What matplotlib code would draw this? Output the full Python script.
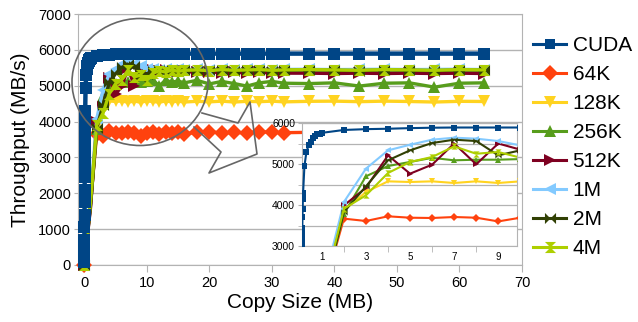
import matplotlib
matplotlib.use("Agg")
import matplotlib.pyplot as plt
from matplotlib.path import Path
from matplotlib.patches import Ellipse
from matplotlib.lines import Line2D

plt.rcParams['font.family'] = ['Liberation Sans', 'DejaVu Sans']

# copy sizes (MB)
cuda_x = [0.0, 0.01, 0.02, 0.03, 0.04, 0.05, 0.06, 0.07, 0.08, 0.09, 0.10, 0.105, 0.11,
          0.115, 0.12, 0.13, 0.14, 0.15, 0.21, 0.3, 0.4, 0.5, 0.6, 0.7, 0.8, 0.9, 1.0,
          2, 3, 4, 5, 6, 7, 8, 9, 10, 11, 12, 13, 14, 15, 16,
          18, 20, 22, 24, 26, 28, 30, 32, 36, 40, 44, 48, 52, 56, 60, 64]
cuda_y = [80, 350, 700, 1050, 1400, 1750, 2100, 2450, 2750, 2950, 3050, 3200, 3350,
          3450, 3700, 3900, 4150, 4300, 4950, 5290, 5460, 5540, 5630, 5680, 5720, 5740, 5760,
          5830, 5850, 5860, 5875, 5885, 5890, 5890, 5890, 5890, 5895, 5895, 5895, 5895, 5895, 5895,
          5895, 5895, 5895, 5895, 5895, 5895, 5895, 5895, 5895, 5895, 5895, 5895, 5895, 5895, 5895, 5895]

chunk_x = [0, 1, 2, 3, 4, 5, 6, 7, 8, 9, 10, 11, 12, 13, 14, 15, 16,
           18, 20, 22, 24, 26, 28, 30, 32, 36, 40, 44, 48, 52, 56, 60, 64]

y_64k = [0, 1750, 3667, 3610, 3724, 3690, 3683, 3707, 3690, 3600, 3690, 3700, 3650, 3720, 3680, 3700, 3660,
         3700, 3720, 3680, 3700, 3680, 3720, 3700, 3690, 3700, 3710, 3690, 3700, 3720, 3700, 3710, 3700]
y_128k = [0, 1800, 3870, 4317, 4577, 4561, 4577, 4537, 4577, 4537, 4577, 4560, 4540, 4575, 4550, 4570, 4545,
          4565, 4550, 4570, 4545, 4565, 4555, 4570, 4550, 4565, 4570, 4555, 4570, 4560, 4545, 4565, 4560]
y_256k = [0, 1700, 3789, 4700, 4950, 5050, 5150, 5090, 5105, 5105, 5120, 5150, 5000, 5150, 5100, 5130, 5080,
          5150, 5050, 5120, 5060, 4990, 5080, 5120, 5070, 5060, 5080, 4990, 5070, 5080, 4960, 5070, 5080]
y_512k = [0, 1600, 3990, 4420, 5210, 4764, 4984, 5500, 4992, 5500, 5350, 5450, 5400, 5450, 5380, 5420, 5400,
          5370, 5390, 5360, 5380, 5350, 5370, 5360, 5350, 5350, 5340, 5350, 5340, 5350, 5340, 5350, 5340]
y_1m = [0, 1900, 4073, 4886, 5333, 5470, 5593, 5642, 5618, 5560, 5455, 5480, 5450, 5470, 5440, 5460, 5450,
        5460, 5450, 5460, 5450, 5455, 5460, 5450, 5455, 5460, 5450, 5455, 5460, 5450, 5455, 5460, 5450]
y_2m = [0, 1650, 3830, 4455, 5090, 5333, 5512, 5593, 5560, 5211, 5333, 5420, 5440, 5400, 5430, 5410, 5440,
        5420, 5430, 5440, 5420, 5430, 5440, 5420, 5430, 5440, 5430, 5420, 5440, 5430, 5420, 5440, 5430]
y_4m = [0, 1750, 3910, 4236, 4780, 5050, 5171, 5430, 5250, 5293, 5155, 5350, 5420, 5380, 5440, 5400, 5430,
        5440, 5420, 5450, 5430, 5440, 5450, 5430, 5440, 5450, 5440, 5430, 5450, 5440, 5430, 5450, 5440]

labels = ['CUDA', '64K', '128K', '256K', '512K', '1M', '2M', '4M']
colors = ['#004586', '#ff420e', '#ffd320', '#579d1c', '#7e0021', '#83caff', '#314004', '#aecf00']

codes = [Path.MOVETO, Path.LINETO, Path.LINETO, Path.CLOSEPOLY] * 2
bowtie = Path([(-1, -1), (0, 0), (-1, 1), (-1, -1), (1, -1), (0, 0), (1, 1), (1, -1)], codes)
hourglass = Path([(-1, 1), (0, 0), (1, 1), (-1, 1), (-1, -1), (0, 0), (1, -1), (-1, -1)], codes)
markers = ['s', 'D', 'v', '^', '>', '<', bowtie, hourglass]

series = [(cuda_x, cuda_y), (chunk_x, y_64k), (chunk_x, y_128k), (chunk_x, y_256k),
          (chunk_x, y_512k), (chunk_x, y_1m), (chunk_x, y_2m), (chunk_x, y_4m)]

grid_c = '#b3b3b3'

fig = plt.figure(figsize=(6.38, 3.22), dpi=100)

# main chart
ax = fig.add_axes([78 / 638, 1 - 265 / 322, 444 / 638, 251 / 322])
for i, (xs, ys) in enumerate(series):
    if i == 0:
        ax.plot(xs, ys, color=colors[i], marker=markers[i], markersize=8.5, lw=3.2,
                markeredgewidth=0, clip_on=False, zorder=20)
    else:
        mark = [0] + list(range(2, len(xs)))
        ax.plot(xs, ys, color=colors[i], marker=markers[i], markersize=8, lw=2.4,
                markevery=mark, markeredgewidth=0, clip_on=False, zorder=3 + i)
ax.set_xlim(-1, 70)
ax.set_ylim(0, 7000)
ax.set_xticks(range(0, 71, 10))
ax.set_yticks(range(0, 7001, 1000))
ax.grid(axis='y', color=grid_c, lw=1)
ax.set_axisbelow(True)
for s in ax.spines.values():
    s.set_color(grid_c)
ax.tick_params(axis='x', colors=grid_c, labelcolor='black', labelsize=10.5, length=5, pad=3)
ax.tick_params(axis='y', colors=grid_c, labelcolor='black', labelsize=10.5, length=3, pad=2)
ax.set_xlabel('Copy Size (MB)', fontsize=15, labelpad=2)
ax.set_ylabel('Throughput (MB/s)', fontsize=15, labelpad=6)

# zoomed inset
ins = fig.add_axes([302 / 638, 1 - 246 / 322, 215 / 638, 123 / 322])
ins.set_facecolor('white')
for i, (xs, ys) in enumerate(series):
    ins.plot(xs, ys, color=colors[i], marker=markers[i], markersize=4.5, lw=1.5,
             markeredgewidth=0, zorder=3 + (8 if i == 0 else i))
ins.set_xlim(0.1, 9.85)
ins.set_ylim(3000, 6000)
ins.set_xticks([1, 3, 5, 7, 9])
ins.set_xticks([2, 4, 6, 8], minor=True)
ins.set_yticks([3000, 4000, 5000, 6000])
ins.set_yticks([3500, 4500, 5500], minor=True)
ins.grid(axis='y', which='both', color=grid_c, lw=0.9)
ins.set_axisbelow(True)
for s in ins.spines.values():
    s.set_color(grid_c)
ins.tick_params(axis='x', which='major', length=0, labelsize=7, pad=4)
ins.tick_params(axis='x', which='minor', length=4, color=grid_c)
ins.tick_params(axis='y', which='both', length=3, color=grid_c, labelsize=7.5, pad=2)

# circle + callout arrow (figure pixel coords)
W, H = 638, 322
fig.add_artist(Ellipse((140 / W, 1 - 82 / H), 136 / W, 127 / H, transform=fig.transFigure,
                       fill=False, edgecolor='#666666', lw=1.2, zorder=30))
arrow_px = [(202, 113), (238, 123), (250, 102), (257, 154), (209, 173), (221, 152), (194, 127)]
fig.add_artist(Line2D([p[0] / W for p in arrow_px], [1 - p[1] / H for p in arrow_px],
                      transform=fig.transFigure, color='#666666', lw=1.2, zorder=30))

# legend
handles = [Line2D([], [], color=colors[i], marker=markers[i], markersize=8 if i else 7,
                  markeredgewidth=0, lw=2.2) for i in range(len(labels))]
fig.legend(handles, labels, loc='upper left', bbox_to_anchor=(533 / W, 1 - 36 / H),
           frameon=False, fontsize=15, handlelength=1.6, handletextpad=0.3,
           labelspacing=0.48, borderpad=0, borderaxespad=0)

fig.savefig('out.png', dpi=100)
